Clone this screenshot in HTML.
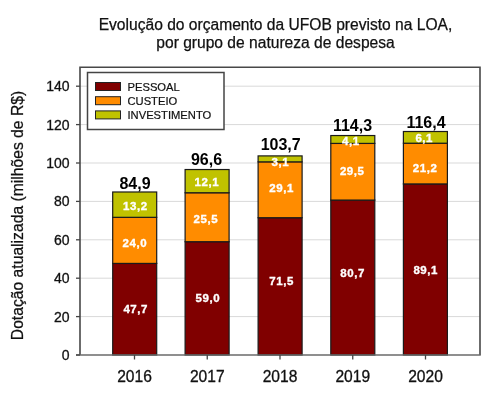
<!DOCTYPE html>
<html><head><meta charset="utf-8"><style>
html,body{margin:0;padding:0;background:#fff;width:495px;height:408px;overflow:hidden}
svg{display:block;filter:blur(0.35px)}
text{font-family:"Liberation Sans",sans-serif}
.tk{font-size:14px;fill:#111;stroke:#111;stroke-width:0.3px}
.xl{font-size:15.6px;fill:#111;stroke:#111;stroke-width:0.3px}
.lg{font-size:11.2px;fill:#111;stroke:#111;stroke-width:0.2px}
.dl{font-size:11.5px;font-weight:bold;fill:#fff;stroke:#fff;stroke-width:0.35px;letter-spacing:0.55px}
.tt{font-size:16px;font-weight:bold;fill:#000}
.ti{font-size:15.6px;fill:#111;stroke:#111;stroke-width:0.25px}
.yl{font-size:15.7px;fill:#111;stroke:#111;stroke-width:0.25px}
</style></head><body>
<svg width="495" height="408" viewBox="0 0 495 408">
<line x1="80" y1="316.60" x2="480" y2="316.60" stroke="#d9d9d9" stroke-width="1"/>
<line x1="80" y1="278.20" x2="480" y2="278.20" stroke="#d9d9d9" stroke-width="1"/>
<line x1="80" y1="239.80" x2="480" y2="239.80" stroke="#d9d9d9" stroke-width="1"/>
<line x1="80" y1="201.40" x2="480" y2="201.40" stroke="#d9d9d9" stroke-width="1"/>
<line x1="80" y1="163.00" x2="480" y2="163.00" stroke="#d9d9d9" stroke-width="1"/>
<line x1="80" y1="124.60" x2="480" y2="124.60" stroke="#d9d9d9" stroke-width="1"/>
<line x1="80" y1="86.20" x2="480" y2="86.20" stroke="#d9d9d9" stroke-width="1"/>
<rect x="112.70" y="263.42" width="44.0" height="91.58" fill="#800000" stroke="#1a1a1a" stroke-width="1.2"/>
<rect x="112.70" y="217.34" width="44.0" height="46.08" fill="#FF8C00" stroke="#1a1a1a" stroke-width="1.2"/>
<rect x="112.70" y="191.99" width="44.0" height="25.34" fill="#C0C200" stroke="#1a1a1a" stroke-width="1.2"/>
<rect x="185.10" y="241.72" width="44.0" height="113.28" fill="#800000" stroke="#1a1a1a" stroke-width="1.2"/>
<rect x="185.10" y="192.76" width="44.0" height="48.96" fill="#FF8C00" stroke="#1a1a1a" stroke-width="1.2"/>
<rect x="185.10" y="169.53" width="44.0" height="23.23" fill="#C0C200" stroke="#1a1a1a" stroke-width="1.2"/>
<rect x="258.10" y="217.72" width="44.0" height="137.28" fill="#800000" stroke="#1a1a1a" stroke-width="1.2"/>
<rect x="258.10" y="161.85" width="44.0" height="55.87" fill="#FF8C00" stroke="#1a1a1a" stroke-width="1.2"/>
<rect x="258.10" y="155.90" width="44.0" height="5.95" fill="#C0C200" stroke="#1a1a1a" stroke-width="1.2"/>
<rect x="330.80" y="200.06" width="44.0" height="154.94" fill="#800000" stroke="#1a1a1a" stroke-width="1.2"/>
<rect x="330.80" y="143.42" width="44.0" height="56.64" fill="#FF8C00" stroke="#1a1a1a" stroke-width="1.2"/>
<rect x="330.80" y="135.54" width="44.0" height="7.87" fill="#C0C200" stroke="#1a1a1a" stroke-width="1.2"/>
<rect x="403.40" y="183.93" width="44.0" height="171.07" fill="#800000" stroke="#1a1a1a" stroke-width="1.2"/>
<rect x="403.40" y="143.22" width="44.0" height="40.70" fill="#FF8C00" stroke="#1a1a1a" stroke-width="1.2"/>
<rect x="403.40" y="131.51" width="44.0" height="11.71" fill="#C0C200" stroke="#1a1a1a" stroke-width="1.2"/>
<path d="M80 355 V67.3 H480 V355" fill="none" stroke="#484848" stroke-width="1.6"/>
<line x1="76" y1="355" x2="480.8" y2="355" stroke="#6a6a6a" stroke-width="1.6"/>
<line x1="76" y1="355.00" x2="80" y2="355.00" stroke="#444" stroke-width="1.3"/>
<text x="69.5" y="360.00" text-anchor="end" class="tk">0</text>
<line x1="76" y1="316.60" x2="80" y2="316.60" stroke="#444" stroke-width="1.3"/>
<text x="69.5" y="321.60" text-anchor="end" class="tk">20</text>
<line x1="76" y1="278.20" x2="80" y2="278.20" stroke="#444" stroke-width="1.3"/>
<text x="69.5" y="283.20" text-anchor="end" class="tk">40</text>
<line x1="76" y1="239.80" x2="80" y2="239.80" stroke="#444" stroke-width="1.3"/>
<text x="69.5" y="244.80" text-anchor="end" class="tk">60</text>
<line x1="76" y1="201.40" x2="80" y2="201.40" stroke="#444" stroke-width="1.3"/>
<text x="69.5" y="206.40" text-anchor="end" class="tk">80</text>
<line x1="76" y1="163.00" x2="80" y2="163.00" stroke="#444" stroke-width="1.3"/>
<text x="69.5" y="168.00" text-anchor="end" class="tk">100</text>
<line x1="76" y1="124.60" x2="80" y2="124.60" stroke="#444" stroke-width="1.3"/>
<text x="69.5" y="129.60" text-anchor="end" class="tk">120</text>
<line x1="76" y1="86.20" x2="80" y2="86.20" stroke="#444" stroke-width="1.3"/>
<text x="69.5" y="91.20" text-anchor="end" class="tk">140</text>
<line x1="134.50" y1="355" x2="134.50" y2="359.5" stroke="#444" stroke-width="1.3"/>
<text x="134.50" y="381.5" text-anchor="middle" class="xl">2016</text>
<line x1="207.25" y1="355" x2="207.25" y2="359.5" stroke="#444" stroke-width="1.3"/>
<text x="207.25" y="381.5" text-anchor="middle" class="xl">2017</text>
<line x1="280.00" y1="355" x2="280.00" y2="359.5" stroke="#444" stroke-width="1.3"/>
<text x="280.00" y="381.5" text-anchor="middle" class="xl">2018</text>
<line x1="352.75" y1="355" x2="352.75" y2="359.5" stroke="#444" stroke-width="1.3"/>
<text x="352.75" y="381.5" text-anchor="middle" class="xl">2019</text>
<line x1="425.50" y1="355" x2="425.50" y2="359.5" stroke="#444" stroke-width="1.3"/>
<text x="425.50" y="381.5" text-anchor="middle" class="xl">2020</text>
<rect x="87.5" y="72.5" width="136.5" height="57" fill="#fff" stroke="#444" stroke-width="1.5"/>
<rect x="95.5" y="82.50" width="25" height="8" fill="#800000" stroke="#222" stroke-width="1"/>
<text x="127.5" y="90.70" class="lg">PESSOAL</text>
<rect x="95.5" y="96.70" width="25" height="8" fill="#FF8C00" stroke="#222" stroke-width="1"/>
<text x="127.5" y="104.90" class="lg">CUSTEIO</text>
<rect x="95.5" y="110.90" width="25" height="8" fill="#C0C200" stroke="#222" stroke-width="1"/>
<text x="127.5" y="119.10" class="lg">INVESTIMENTO</text>
<text x="135.70" y="313.0" text-anchor="middle" class="dl">47,7</text>
<text x="134.80" y="247.1" text-anchor="middle" class="dl">24,0</text>
<text x="135.40" y="209.7" text-anchor="middle" class="dl">13,2</text>
<text x="207.80" y="302.2" text-anchor="middle" class="dl">59,0</text>
<text x="205.80" y="223.1" text-anchor="middle" class="dl">25,5</text>
<text x="206.90" y="185.6" text-anchor="middle" class="dl">12,1</text>
<text x="281.60" y="285.2" text-anchor="middle" class="dl">71,5</text>
<text x="281.60" y="191.9" text-anchor="middle" class="dl">29,1</text>
<text x="280.40" y="165.8" text-anchor="middle" class="dl">3,1</text>
<text x="352.60" y="277.2" text-anchor="middle" class="dl">80,7</text>
<text x="352.20" y="175.2" text-anchor="middle" class="dl">29,5</text>
<text x="350.90" y="145.2" text-anchor="middle" class="dl">4,1</text>
<text x="425.70" y="273.8" text-anchor="middle" class="dl">89,1</text>
<text x="425.10" y="171.7" text-anchor="middle" class="dl">21,2</text>
<text x="424.20" y="141.7" text-anchor="middle" class="dl">6,1</text>
<text x="135.0" y="189.0" text-anchor="middle" class="tt">84,9</text>
<text x="206.5" y="164.6" text-anchor="middle" class="tt">96,6</text>
<text x="280.7" y="149.5" text-anchor="middle" class="tt">103,7</text>
<text x="352.5" y="131.0" text-anchor="middle" class="tt">114,3</text>
<text x="426.0" y="127.5" text-anchor="middle" class="tt">116,4</text>
<text x="275.5" y="30.3" text-anchor="middle" class="ti">Evolução do orçamento da UFOB previsto na LOA,</text>
<text x="275.5" y="47.8" text-anchor="middle" class="ti">por grupo de natureza de despesa</text>
<text transform="translate(23.3,215.5) rotate(-90)" text-anchor="middle" class="yl">Dotação atualizada (milhões de R$)</text>
</svg>
</body></html>
